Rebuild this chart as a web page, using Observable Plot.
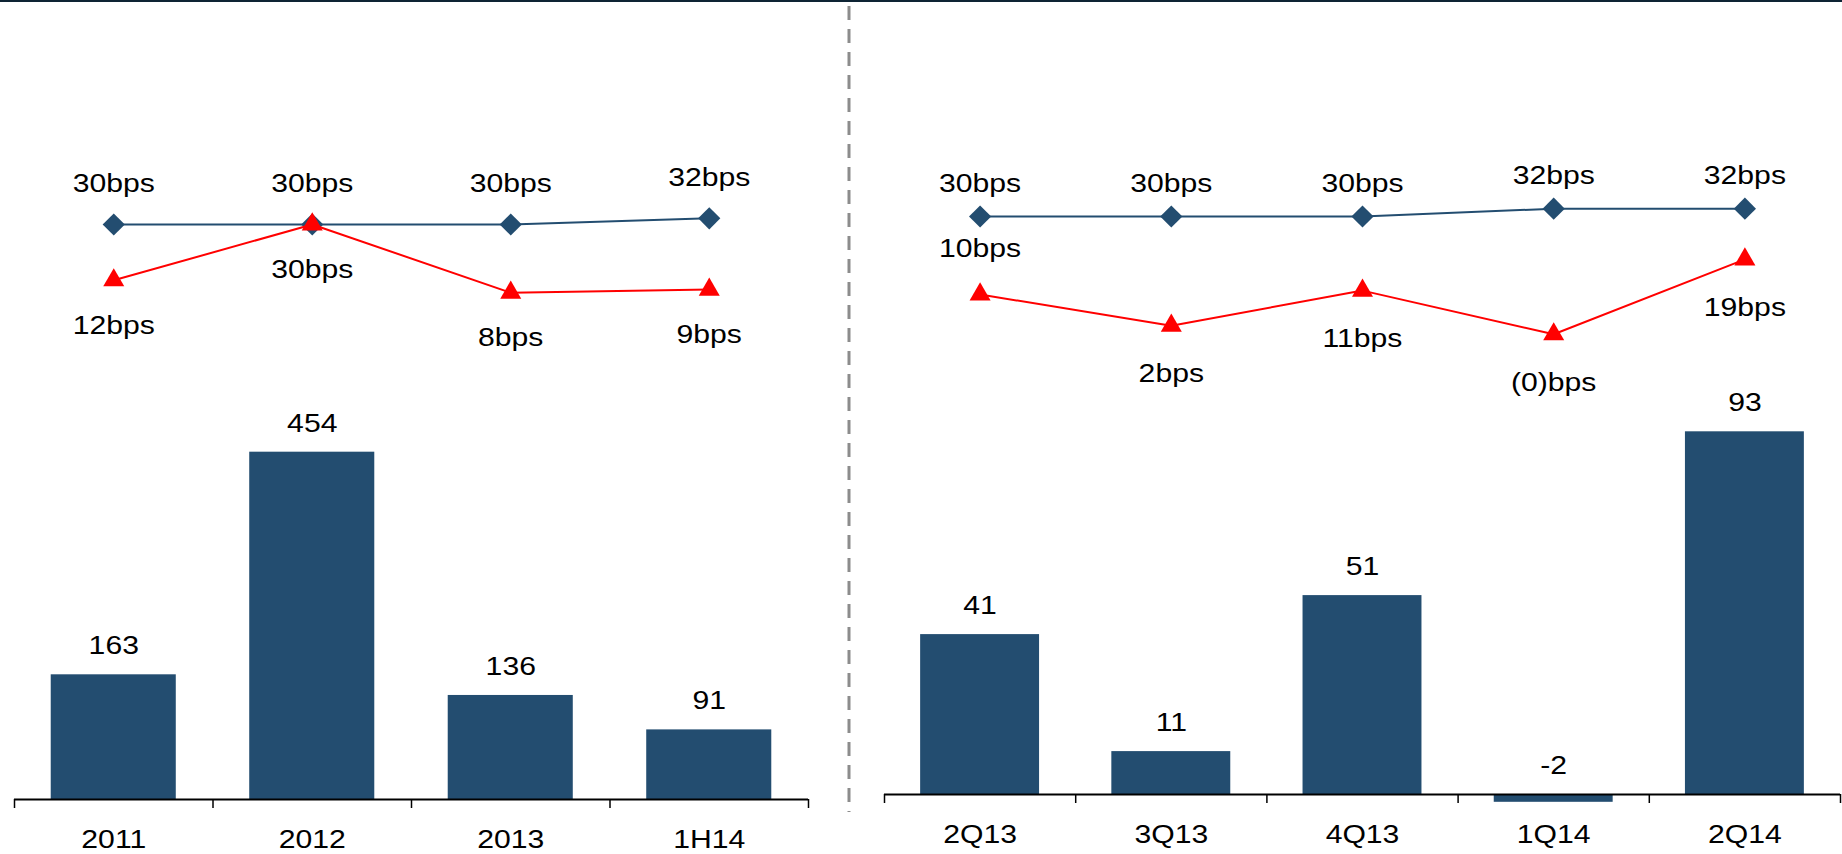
<!DOCTYPE html>
<html>
<head>
<meta charset="utf-8">
<script src="https://cdn.jsdelivr.net/npm/d3@7"></script>
<script src="https://cdn.jsdelivr.net/npm/@observablehq/plot@0.6"></script>
<style>
  html, body { margin: 0; padding: 0; background: #fff; }
  #chart { position: relative; width: 1842px; height: 854px; overflow: hidden; font-family: "Liberation Sans", Arial, sans-serif; }
  #chart svg.layer { position: absolute; left: 0; top: 0; }
  #topline { position: absolute; left: 0; top: 0; width: 1842px; height: 2px; background: #0e2434; }
</style>
</head>
<body>
<div id="chart">
  <div id="topline"></div>
  <svg class="layer" width="1842" height="854" style="position:absolute;left:0;top:0">
    <line x1="849" x2="849" y1="6" y2="812" stroke="#8c8c8c" stroke-width="3" stroke-dasharray="14 9"></line>
  </svg>
</div>
<script>
// ---- data ----
const leftCats = ["2011", "2012", "2013", "1H14"];
const leftBars = [163, 454, 136, 91];
const leftBlue = [30, 30, 30, 32];
const leftRed = [12, 30, 8, 9];

const rightCats = ["2Q13", "3Q13", "4Q13", "1Q14", "2Q14"];
const rightBars = [41, 11, 51, -2, 93];
const rightBlue = [30, 30, 30, 32, 32];
const rightRed = [10, 2, 11, -0.2, 19];

// ---- styles ----
const BAR = "#234d70";
const BLUE = "#234d70";
const RED = "#ff0000";
const FONT = "\"Liberation Sans\", Arial, sans-serif";
const FS = 26;
const STRETCH = 1.16;

const bps = v => v < 0 ? `(${Math.abs(Math.round(v))})bps` : `${Math.round(v)}bps`;

const chart = document.getElementById("chart");

function addLayer(svg) {
  svg.classList.add("layer");
  svg.style.position = "absolute";
  svg.style.left = "0px";
  svg.style.top = "0px";
  svg.style.background = "none";
  svg.style.overflow = "visible";
  // widen glyphs horizontally around each text's anchor point
  svg.querySelectorAll("text").forEach(t => {
    const tr = t.getAttribute("transform") || "";
    const x = +(t.getAttribute("x") || 0);
    t.setAttribute("transform", `${tr} translate(${x},0) scale(${STRETCH},1) translate(${-x},0)`);
  });
  chart.appendChild(svg);
}

function panel(o) {
  const n = o.cats.length;
  const idx = d3.range(n);
  const barData = idx.map(i => ({i, cat: o.cats[i], v: o.bars[i]}));
  const blueData = idx.map(i => ({i, v: o.blue[i]}));
  const redData = idx.map(i => ({i, v: o.red[i]}));
  const common = {
    width: 1842, height: 854,
    marginLeft: o.marginLeft, marginRight: o.marginRight,
    style: {background: "none", fontFamily: FONT, fontSize: FS + "px", color: "#000", overflow: "visible"}
  };

  // bars
  const bars = Plot.plot({
    ...common,
    marginTop: o.barMarginTop, marginBottom: o.barMarginBottom,
    x: {type: "linear", domain: [0, n], axis: null},
    y: {domain: o.barDomain, axis: null},
    marks: [
      Plot.rectY(barData, {x1: d => d.i + o.pad, x2: d => d.i + 1 - o.pad, y1: 0, y2: "v", fill: BAR}),
      Plot.ruleY([0], {x1: 0, x2: n, stroke: "#000", strokeWidth: 2}),
      Plot.axisX(d3.range(n + 1), {tickSize: 9, tickFormat: () => "", strokeWidth: 1.5, stroke: "#000", label: null}),
      Plot.axisX(idx.map(i => i + 0.5), {tickSize: 0, tickPadding: 30, tickFormat: t => o.cats[Math.floor(t)], fontSize: FS, fill: "#000", label: null}),
      Plot.text(barData, {x: d => d.i + 0.5, y: d => Math.max(d.v, 0), text: d => String(d.v), dy: -29, fontSize: FS, fill: "#000"})
    ]
  });
  addLayer(bars);

  // lines
  const redAbove = redData.filter(d => o.redAboveFirst && d.i === 0);
  const redBelow = redData.filter(d => !(o.redAboveFirst && d.i === 0));
  const lines = Plot.plot({
    ...common,
    marginTop: o.lineMarginTop, marginBottom: o.lineMarginBottom,
    x: {type: "linear", domain: [0, n], axis: null},
    y: {domain: [0, 40], axis: null},
    marks: [
      Plot.line(blueData, {x: d => d.i + 0.5, y: "v", stroke: BLUE, strokeWidth: 2}),
      Plot.dot(blueData, {x: d => d.i + 0.5, y: "v", symbol: "diamond2", r: 10, fill: BLUE, stroke: "none"}),
      Plot.line(redData, {x: d => d.i + 0.5, y: "v", stroke: RED, strokeWidth: 2}),
      Plot.dot(redData, {x: d => d.i + 0.5, y: "v", symbol: "triangle", r: 7.8, fill: RED, stroke: "none"}),
      Plot.text(blueData, {x: d => d.i + 0.5, y: "v", text: d => bps(d.v), dy: o.blueDy, fontSize: FS, fill: "#000"}),
      Plot.text(redAbove, {x: d => d.i + 0.5, y: "v", text: d => bps(d.v), dy: o.redAboveDy, fontSize: FS, fill: "#000"}),
      Plot.text(redBelow, {x: d => d.i + 0.5, y: "v", text: d => bps(d.v), dy: o.redDy, fontSize: FS, fill: "#000"})
    ]
  });
  addLayer(lines);
}

// left: axis 14..808, baseline y=799, 0.765 px/unit; line zero at 317, 3.1 px/bps
panel({
  cats: leftCats, bars: leftBars, blue: leftBlue, red: leftRed,
  marginLeft: 14, marginRight: 1034, pad: 0.185,
  barDomain: [0, 500], barMarginTop: 416.5, barMarginBottom: 55,
  lineMarginTop: 193, lineMarginBottom: 537,
  blueDy: -41, redDy: 45, redAboveFirst: false, redAboveDy: -44
});

// right: axis 884..1840, baseline y=794, 3.9 px/unit; line zero at 333, 3.9 px/bps
panel({
  cats: rightCats, bars: rightBars, blue: rightBlue, red: rightRed,
  marginLeft: 884, marginRight: 2, pad: 0.189,
  barDomain: [0, 100], barMarginTop: 404, barMarginBottom: 60,
  lineMarginTop: 177, lineMarginBottom: 521,
  blueDy: -33, redDy: 48, redAboveFirst: true, redAboveDy: -46
});
</script>
</body>
</html>
